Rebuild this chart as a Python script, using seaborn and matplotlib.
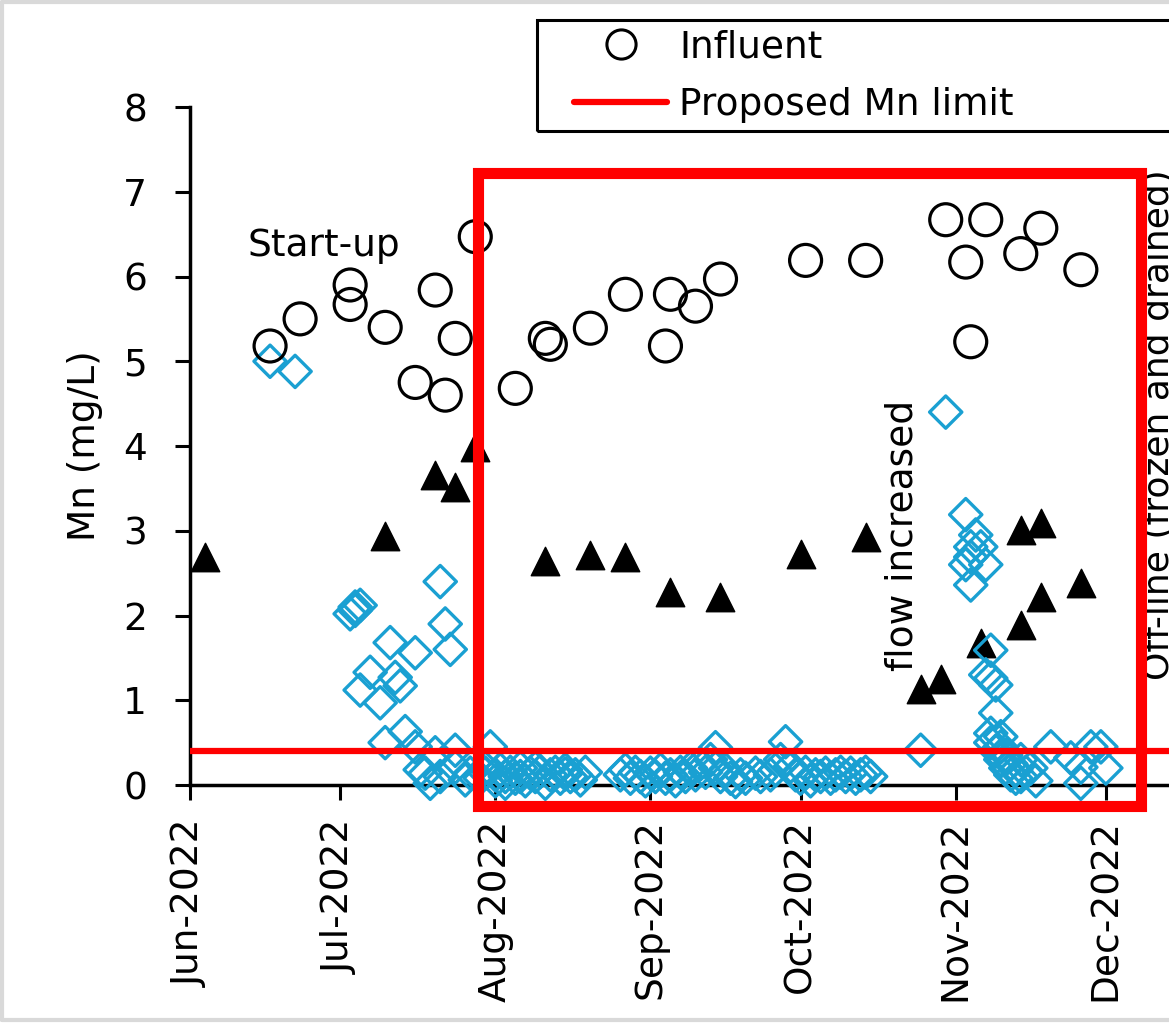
import matplotlib
matplotlib.use("Agg")
import matplotlib.pyplot as plt
import matplotlib.dates as mdates
from matplotlib.lines import Line2D
from matplotlib.patches import Rectangle
import pandas as pd
import seaborn as sns

# ---- data -----------------------------------------------------------------
influent_dates = [
    "2022-06-17", "2022-06-23", "2022-07-03", "2022-07-03", "2022-07-10",
    "2022-07-16", "2022-07-20", "2022-07-22", "2022-07-24", "2022-07-28",
    "2022-08-05", "2022-08-11", "2022-08-12", "2022-08-20", "2022-08-27",
    "2022-09-04", "2022-09-05", "2022-09-10", "2022-09-15", "2022-10-02",
    "2022-10-14", "2022-10-30", "2022-11-03", "2022-11-04", "2022-11-07",
    "2022-11-14", "2022-11-18", "2022-11-26",
]
influent_mn = [
    5.18, 5.50, 5.90, 5.67, 5.40,
    4.75, 5.84, 4.60, 5.27, 6.47,
    4.68, 5.27, 5.20, 5.39, 5.79,
    5.18, 5.79, 5.65, 5.97, 6.19,
    6.19, 6.67, 6.17, 5.23, 6.67,
    6.27, 6.57, 6.08,
]

stage1_dates = [
    "2022-06-04", "2022-07-10", "2022-07-20", "2022-07-24", "2022-07-28",
    "2022-08-11", "2022-08-20", "2022-08-27", "2022-09-05", "2022-09-15",
    "2022-10-01", "2022-10-14", "2022-10-25", "2022-10-29", "2022-11-06",
    "2022-11-14", "2022-11-14", "2022-11-18", "2022-11-18", "2022-11-26",
]
stage1_mn = [
    2.69, 2.94, 3.66, 3.52, 3.99,
    2.64, 2.71, 2.69, 2.28, 2.22,
    2.72, 2.93, 1.13, 1.25, 1.68,
    3.01, 1.89, 3.09, 2.22, 2.38,
]

effluent_dates = [
    "2022-06-17", "2022-06-22", "2022-07-03", "2022-07-04", "2022-07-04",
    "2022-07-05", "2022-07-05", "2022-07-07", "2022-07-09", "2022-07-10",
    "2022-07-11", "2022-07-12", "2022-07-13", "2022-07-14", "2022-07-16",
    "2022-07-16", "2022-07-17", "2022-07-18", "2022-07-19", "2022-07-20",
    "2022-07-21", "2022-07-21", "2022-07-22", "2022-07-23", "2022-07-24",
    "2022-07-24", "2022-07-26", "2022-07-27", "2022-07-29", "2022-07-30",
    "2022-07-30", "2022-07-31", "2022-08-01", "2022-08-01", "2022-08-02",
    "2022-08-03", "2022-08-03", "2022-08-04", "2022-08-05", "2022-08-06",
    "2022-08-06", "2022-08-07", "2022-08-08", "2022-08-09", "2022-08-09",
    "2022-08-10", "2022-08-11", "2022-08-12", "2022-08-13", "2022-08-14",
    "2022-08-15", "2022-08-15", "2022-08-16", "2022-08-17", "2022-08-18",
    "2022-08-19", "2022-08-26", "2022-08-27", "2022-08-28", "2022-08-29",
    "2022-08-30", "2022-08-31", "2022-09-01", "2022-09-02", "2022-09-03",
    "2022-09-04", "2022-09-05", "2022-09-06", "2022-09-07", "2022-09-08",
    "2022-09-09", "2022-09-10", "2022-09-11", "2022-09-12", "2022-09-13",
    "2022-09-14", "2022-09-14", "2022-09-15", "2022-09-16", "2022-09-17",
    "2022-09-18", "2022-09-19", "2022-09-20", "2022-09-22", "2022-09-23",
    "2022-09-25", "2022-09-26", "2022-09-27", "2022-09-28", "2022-09-29",
    "2022-09-30", "2022-10-01", "2022-10-02", "2022-10-03", "2022-10-04",
    "2022-10-05", "2022-10-06", "2022-10-07", "2022-10-08", "2022-10-09",
    "2022-10-10", "2022-10-11", "2022-10-12", "2022-10-13", "2022-10-14",
    "2022-10-15", "2022-10-25", "2022-10-30", "2022-11-03", "2022-11-05",
    "2022-11-04", "2022-11-06", "2022-11-04", "2022-11-07", "2022-11-03",
    "2022-11-04", "2022-11-08", "2022-11-07", "2022-11-08", "2022-11-09",
    "2022-11-09", "2022-11-08", "2022-11-10", "2022-11-08", "2022-11-09",
    "2022-11-10", "2022-11-10", "2022-11-11", "2022-11-11", "2022-11-12",
    "2022-11-12", "2022-11-13", "2022-11-13", "2022-11-14", "2022-11-14",
    "2022-11-15", "2022-11-16", "2022-11-17", "2022-11-20", "2022-11-24",
    "2022-11-26", "2022-11-26", "2022-11-28", "2022-11-30", "2022-12-01",
]
effluent_mn = [
    5.00, 4.88, 2.02, 2.10, 2.06,
    2.12, 1.12, 1.33, 0.97, 0.50,
    1.68, 1.27, 1.17, 0.63, 1.56,
    0.45, 0.18, 0.14, 0.02, 0.38,
    2.40, 0.10, 1.90, 1.60, 0.21,
    0.41, 0.06, 0.14, 0.08, 0.14,
    0.20, 0.45, 0.12, 0.05, 0.18,
    0.10, 0.02, 0.15, 0.08, 0.20,
    0.10, 0.05, 0.14, 0.10, 0.20,
    0.16, 0.02, 0.12, 0.15, 0.08,
    0.13, 0.18, 0.10, 0.12, 0.06,
    0.15, 0.12, 0.18, 0.08, 0.15,
    0.10, 0.05, 0.14, 0.10, 0.18,
    0.08, 0.12, 0.05, 0.15, 0.10,
    0.20, 0.12, 0.25, 0.15, 0.30,
    0.44, 0.20, 0.10, 0.18, 0.08,
    0.04, 0.12, 0.08, 0.14, 0.10,
    0.12, 0.18, 0.30, 0.51, 0.22,
    0.12, 0.08, 0.15, 0.05, 0.12,
    0.10, 0.14, 0.08, 0.12, 0.15,
    0.10, 0.14, 0.08, 0.12, 0.15,
    0.10, 0.41, 4.40, 3.19, 2.95,
    2.81, 2.81, 2.69, 2.60, 2.60,
    2.36, 1.59, 1.30, 1.26, 1.18,
    0.85, 0.61, 0.57, 0.50, 0.40,
    0.45, 0.30, 0.35, 0.20, 0.25,
    0.12, 0.18, 0.08, 0.10, 0.30,
    0.15, 0.20, 0.05, 0.45, 0.32,
    0.21, 0.02, 0.45, 0.45, 0.20,
]

limit_mn = 0.4

month_ticks = ["2022-06-01", "2022-07-01", "2022-08-01", "2022-09-01",
               "2022-10-01", "2022-11-01", "2022-12-01"]

# highlighted period box
box_start, box_end = "2022-07-28 12:00", "2022-12-08 00:00"
box_low, box_high = -0.25, 7.22

# ---- style ----------------------------------------------------------------
sns.set_style("white")
plt.rcParams["font.family"] = ["DejaVu Sans"]
plt.rcParams["text.color"] = "black"
plt.rcParams["axes.labelcolor"] = "black"
plt.rcParams["xtick.color"] = "black"
plt.rcParams["ytick.color"] = "black"

W, H = 1169, 1023
fig = plt.figure(figsize=(W / 100, H / 100), dpi=100)
ax = fig.add_axes([190 / W, 1 - 785 / H, 1066 / W, (785 - 107) / H])

FS = 27
BLUE = "#1AA0D2"


def frame(dates, values):
    return pd.DataFrame({"date": pd.to_datetime(dates), "mn": values})


def styled(n_before, face, edge, lw):
    coll = ax.collections[n_before]
    coll.set_facecolor(face)
    coll.set_edgecolor(edge)
    coll.set_linewidth(lw)


n = len(ax.collections)
sns.scatterplot(data=frame(stage1_dates, stage1_mn), x="date", y="mn",
                marker="^", s=420, ax=ax, legend=False, zorder=3, clip_on=False)
styled(n, "black", "black", 1.0)

n = len(ax.collections)
sns.scatterplot(data=frame(effluent_dates, effluent_mn), x="date", y="mn",
                marker="D", s=270, ax=ax, legend=False, zorder=4, clip_on=False)
styled(n, "none", BLUE, 2.4)

n = len(ax.collections)
sns.scatterplot(data=frame(influent_dates, influent_mn), x="date", y="mn",
                marker="o", s=530, ax=ax, legend=False, zorder=5, clip_on=False)
styled(n, "none", "black", 2.3)

ax.axhline(limit_mn, color="red", lw=4.5, zorder=6)

# ---- axes -----------------------------------------------------------------
ax.set_xlim(pd.Timestamp("2022-06-01"), pd.Timestamp("2022-12-31"))
ax.set_ylim(0, 8)
ax.set_yticks(range(0, 9))
ax.set_xticks(pd.to_datetime(month_ticks))
ax.xaxis.set_major_formatter(mdates.DateFormatter("%b-%Y"))

for side in ("top", "right"):
    ax.spines[side].set_visible(False)
for side in ("left", "bottom"):
    ax.spines[side].set_color("black")
    ax.spines[side].set_linewidth(2.5)

ax.tick_params(axis="y", direction="out", length=10.8, width=2.2, pad=20,
               labelsize=FS, left=True, colors="black")
ax.tick_params(axis="x", direction="out", length=10.8, width=2.2, pad=14,
               labelsize=FS, labelrotation=90, bottom=True, colors="black")
ax.set_xlabel("")
ax.set_ylabel("Mn (mg/L)", fontsize=FS, va="center", color="black")
ax.yaxis.set_label_coords((85 - 190) / 1066, 0.5)

# ---- annotations ----------------------------------------------------------
ax.text(pd.Timestamp("2022-06-12 14:00"), 6.24, "Start-up", fontsize=FS,
        ha="left", va="baseline", color="black")
ax.text(pd.Timestamp("2022-10-21 07:00"), 2.95, "flow increased", fontsize=FS,
        rotation=90, ha="center", va="center", color="black")
ax.text(pd.Timestamp("2022-12-08 05:00"), 1.24, "Off-line (frozen and drained)",
        fontsize=26, rotation=90, ha="left", va="bottom", clip_on=False,
        color="black")

x0 = mdates.date2num(pd.Timestamp(box_start))
x1 = mdates.date2num(pd.Timestamp(box_end))
ax.add_patch(Rectangle((x0, box_low), x1 - x0, box_high - box_low, fill=False,
                       edgecolor="red", lw=8, joinstyle="miter", zorder=10,
                       clip_on=False))

# ---- legend ---------------------------------------------------------------
handles = [
    Line2D([], [], marker="o", ls="none", ms=21, mfc="none", mec="black", mew=2.2),
    Line2D([], [], color="red", lw=4.5),
]
fig.legend(handles, ["Influent", "Proposed Mn limit"], loc="upper left",
           bbox_to_anchor=(574 / W, 1 - 29 / H), bbox_transform=fig.transFigure,
           frameon=False, fontsize=FS, borderpad=0, borderaxespad=0,
           handlelength=2.48, handletextpad=0.32, labelspacing=0.58, numpoints=1)
fig.add_artist(Rectangle((537 / W, 1 - 131 / H), (1320 - 537) / W, (131 - 20) / H,
                         transform=fig.transFigure, fill=False, edgecolor="black",
                         lw=2.2))

# chart-area border
border = dict(transform=fig.transFigure, color="#D9D9D9", lw=3)
fig.add_artist(Line2D([2 / W, 1], [1 - 2 / H, 1 - 2 / H], **border))
fig.add_artist(Line2D([2 / W, 2 / W], [1 - 2 / H, 1 - 1020 / H], **border))
fig.add_artist(Line2D([2 / W, 1], [1 - 1020 / H, 1 - 1020 / H], **border))

fig.savefig("out.png", dpi=100)
